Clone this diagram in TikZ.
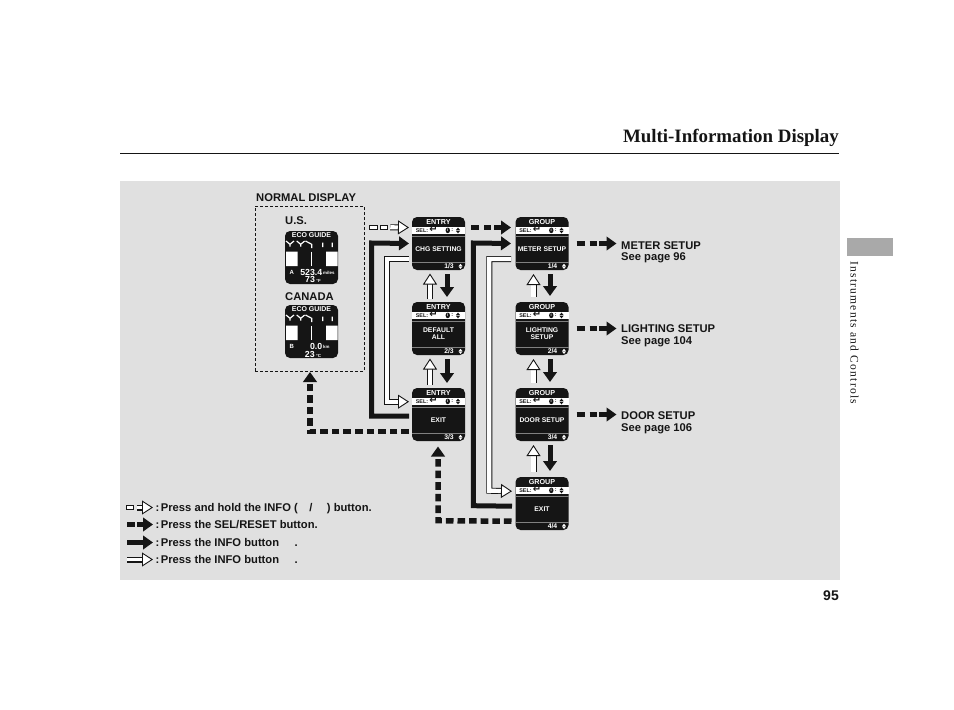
\documentclass[tikz,border=0pt]{standalone}
\usepackage{fontspec}
\setmainfont{Liberation Sans}
\newfontfamily\serifx{Liberation Serif}
\newfontfamily\sidef[LetterSpace=11]{Liberation Serif}
\newfontfamily\djv{DejaVu Sans}
\usetikzlibrary{arrows.meta}
\definecolor{panel}{HTML}{E0E0E0}
\definecolor{tabgray}{HTML}{A9A9A9}
\definecolor{ink}{HTML}{151515}
\tikzset{
 screen/.style={fill=ink,rounded corners=5pt,minimum width=53pt,minimum height=53pt,inner sep=0pt,outer sep=0pt},
 sfont/.style={text=white,font=\fontsize{#1}{#1}\selectfont\bfseries,inner sep=0pt,align=center},
 bfont/.style={text=ink,font=\fontsize{#1}{#1}\selectfont\bfseries,inner sep=0pt},
 lab/.style={text=ink,font=\fontsize{11.2}{12}\selectfont\bfseries,inner sep=0pt,anchor=base west},
 kline/.style={draw=ink,line width=5pt,-{Triangle[length=10pt,width=13.5pt]}},
 kdash/.style={kline,line width=5.5pt,dash pattern=on 7.6pt off 4pt},
 wline/.style={preaction={draw=ink,line width=6pt,-,shorten >=8pt},draw=white,line width=4.2pt,
   -{Triangle[length=11pt,width=14pt,fill=white,color=ink,line width=.9pt]}},
 smallbox/.style={draw=ink,line width=.9pt,fill=white,minimum width=7.5pt,minimum height=4pt,inner sep=0pt,outer sep=0pt},
 smallk/.style={fill=ink,minimum width=8pt,minimum height=5pt,inner sep=0pt,outer sep=0pt},
}
\newcommand{\scr}[6]{%
\node[screen] (#1) at (#2+26.5,#3+26.5) {};
\begin{scope}[shift={(#2,#3)}]
\fill[white] (0,9.7) rectangle (53,17);
\draw[gray,line width=.5pt] (0,19.5) -- (53,19.5) (0,45.5) -- (53,45.5);
\node[sfont=7.2] (#1t) at (26.5,5) {#4};
\node[bfont=5.4] (#1s) at (10,13.4) {SEL:};
\node[text=ink,font=\djv\fontsize{10}{10}\selectfont\bfseries,inner sep=0pt] (#1r) at (21.5,12.8) {↵};
\fill[ink] (35.8,13.4) ellipse (2.2pt and 2.8pt);
\node[text=white,font=\fontsize{4}{4}\selectfont\bfseries,inner sep=0pt] (#1i) at (35.8,13.4) {i};
\node[bfont=5.5] (#1c) at (40.3,13.2) {:};
\fill[ink] (44,13)--(48,13)--(46,10.6)--cycle (44,13.9)--(48,13.9)--(46,16.3)--cycle;
\node[sfont=6.8] (#1b) at (26.5,31.8) {#5};
\node[sfont=6.8] (#1p) at (37,49.3) {#6};
\fill[white] (46.7,49)--(50.3,49)--(48.5,46.8)--cycle (46.7,49.7)--(50.3,49.7)--(48.5,51.9)--cycle;
\end{scope}}
\newcommand{\disp}[9]{%
\node[screen] (#1) at (#2+26.5,#3+26.5) {};
\begin{scope}[shift={(#2,#3)}]
\node[sfont=7] (#1t) at (26.5,3.9) {ECO GUIDE};
\draw[white,line width=1.2pt] (1,10)--(5,13.3)--(9,10) (5,13.3)--(5,15.7)
 (11.7,10)--(15.7,13.3)--(19.7,10) (15.7,13.3)--(15.7,15.7)
 (20.5,10)--(26.7,13.3)--(26.7,17) (37.7,11.6)--(37.7,16) (47.3,11.6)--(47.3,16);
\fill[white] (1,20.7) rectangle (12.7,35) (41,20.7) rectangle (52.7,35);
\draw[white,line width=.8pt] (26.7,20.7)--(26.7,35);
\node[sfont=6] (#1a) at (6.7,41) {#4};
\node[sfont=8.8,anchor=east] (#1m) at (#5,41.3) {#6};
\node[sfont=4.4,anchor=west] (#1n) at (#5+.5,41.8) {#7};
\node[sfont=8.8] (#1d) at (28,#9) {#8};
\end{scope}}
\begin{document}
\begin{tikzpicture}[x=1pt,y=-1pt,line join=miter]
\useasboundingbox (0,0) rectangle (954,710);
\fill[white] (0,0) rectangle (954,710);
\fill[panel] (120,181) rectangle (840,580);
\fill[tabgray] (847,238) rectangle (893,256);
\draw[ink,line width=.8pt] (120,153) -- (839,153);
\node[anchor=base east,inner sep=0pt,text=ink,font=\serifx\fontsize{18.9}{20}\selectfont\bfseries] (title) at (839,142) {Multi-Information Display};
\node[anchor=base east,inner sep=0pt,text=ink,font=\fontsize{14}{14}\selectfont\bfseries] (pnum) at (839,600) {95};
\node[rotate=-90,anchor=west,inner sep=0pt,text=ink,font=\sidef\fontsize{11.5}{12}\selectfont] (side) at (854.5,261) {Instruments and Controls};

\node[draw=ink,line width=.7pt,dash pattern=on 3pt off 2pt,minimum width=109pt,minimum height=165pt,inner sep=0pt,outer sep=0pt] (nd) at (309.5,288.5) {};
\node[lab] (ndl) at (256,201) {NORMAL DISPLAY};
\node[lab] (us) at (285,224) {U.S.};
\node[lab] (ca) at (285,300) {CANADA};
\disp{dus}{285}{231}{A}{37.5}{523.4}{miles}{73\,{\fontsize{4.4}{4.4}\selectfont °F}}{48.3}
\disp{dca}{285}{305}{B}{37.5}{0.0}{km}{23\,{\fontsize{4.4}{4.4}\selectfont °C}}{49.3}

\scr{e1}{412}{217}{ENTRY}{CHG SETTING}{1/3}
\scr{e2}{412}{302}{ENTRY}{DEFAULT\\[.5pt]ALL}{2/3}
\scr{e3}{412}{388}{ENTRY}{EXIT}{3/3}
\scr{g1}{515.5}{217}{GROUP}{METER SETUP}{1/4}
\scr{g2}{515.5}{302}{GROUP}{LIGHTING\\[.5pt]SETUP}{2/4}
\scr{g3}{515.5}{388}{GROUP}{DOOR SETUP}{3/4}
\scr{g4}{515.5}{477}{GROUP}{EXIT}{4/4}

% top entry
\node[smallbox] (b1) at (373.3,227.3) {};
\node[smallbox] (b2) at (384,227.3) {};
\draw[wline] (b2.east) ++(2.5pt,0) -- ([xshift=-3pt,yshift=16pt]e1.west);

% e1 -> g1
\draw[kdash,dash pattern=on 8pt off 5pt on 7pt off 3pt on 30pt] ([xshift=6pt,yshift=16pt]e1.east) -- ([xshift=-4.5pt,yshift=16pt]g1.west);

% verticals
\foreach \u/\d in {e1/e2,e2/e3}{
 \draw[wline] ([xshift=-8.5pt,yshift=3pt]\d.north) -- ([xshift=-8.5pt,yshift=-3.5pt]\u.south);
 \draw[kline] ([xshift=8.5pt,yshift=-4pt]\u.south) -- ([xshift=8.5pt,yshift=5pt]\d.north);
}
\foreach \u/\d in {g1/g2,g2/g3,g3/g4}{
 \draw[wline] ([xshift=-8.5pt,yshift=5pt]\d.north) -- ([xshift=-8.5pt,yshift=-4pt]\u.south);
 \draw[kline] ([xshift=8pt,yshift=-4pt]\u.south) -- ([xshift=8pt,yshift=6pt]\d.north);
}

% long returns column 1
\draw[kline] ([xshift=-3pt,yshift=-1.5pt]e3.west) -- (371.7,416) -- (371.7,243) -- ([xshift=-3pt]e1.west);
\draw[wline] ([xshift=-3pt,yshift=-15.5pt]e1.west) -- (387,259) -- (387,401.7) -- ([xshift=-3pt,yshift=12.8pt]e3.west);
% long returns column 2
\draw[kline] ([xshift=-3.5pt,yshift=-2.7pt]g4.west) -- (473.3,505.7) -- (473.3,243) -- ([xshift=-4.5pt]g1.west);
\draw[wline] ([xshift=-4.5pt,yshift=-15.5pt]g1.west) -- (489.3,259) -- (489.3,490.7) -- ([xshift=-3.5pt,yshift=12.3pt]g4.west);

% dashed exits
\draw[kdash] ([xshift=-3pt,yshift=-16.8pt]e3.west) -- (310,431.3) -- (310,372);
\draw[kdash] ([xshift=-4pt,yshift=-17.7pt]g4.west) -- (438,520.7) -- ([xshift=-.5pt,yshift=-5.5pt]e3.south);

% right arrows
\foreach \g in {g1,g2,g3}{
 \draw[kdash,dash pattern=on 8pt off 5pt on 7pt off 2.5pt on 30pt] ([xshift=8pt]\g.east) -- ([xshift=48pt]\g.east);
}
\node[lab] (m1) at (621,249) {METER SETUP};
\node[lab] (m2) at (621,260.5) {See page 96};
\node[lab] (l1) at (621,332) {LIGHTING SETUP};
\node[lab] (l2) at (621,344) {See page 104};
\node[lab] (d1) at (621,419) {DOOR SETUP};
\node[lab] (d2) at (621,431) {See page 106};

% legend
\node[smallbox] (k1) at (130,507.5) {};
\coordinate (k1e) at (153,507.5);
\draw[wline,line width=3.4pt] (k1.east) ++(3pt,0) -- (k1e);
\node[lab] (t1) at (155.5,511) {:\hspace{1.5pt}Press and hold the INFO (\hspace{11.5pt}/\hspace{14.5pt}) button.};
\node[smallk] (k2) at (130.5,524.5) {};
\coordinate (k2e) at (153,524.5);
\draw[kline,line width=4.5pt] (k2.east) ++(2.5pt,0) -- (k2e);
\node[lab] (t2) at (155.5,528) {:\hspace{1.5pt}Press the SEL/RESET button.};
\coordinate (k3s) at (127,542.5);
\coordinate (k3e) at (153,542.5);
\draw[kline,line width=4.5pt] (k3s) -- (k3e);
\node[lab] (t3) at (155.5,546) {:\hspace{1.5pt}Press the INFO button\hspace{15.5pt}.};
\coordinate (k4s) at (127,559.5);
\coordinate (k4e) at (153,559.5);
\draw[wline,line width=3.4pt] (k4s) -- (k4e);
\node[lab] (t4) at (155.5,563) {:\hspace{1.5pt}Press the INFO button\hspace{15.5pt}.};
\end{tikzpicture}
\end{document}
